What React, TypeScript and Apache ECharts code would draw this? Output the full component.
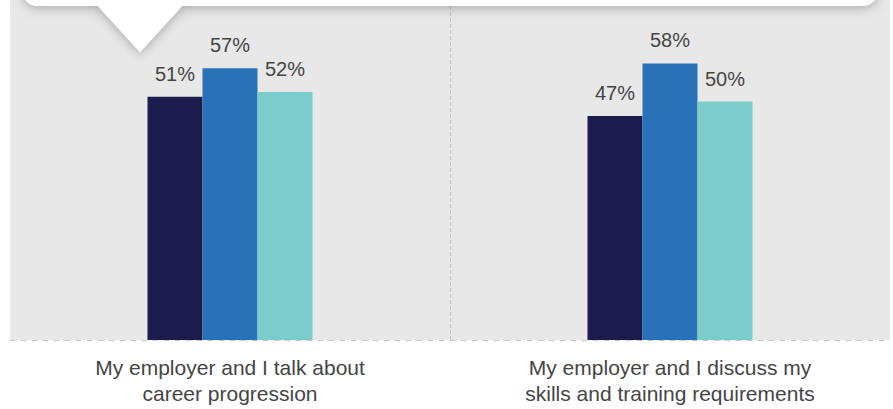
import React, { useEffect, useRef } from "react";
import * as echarts from "echarts";

const categories = [
  "My employer and I talk about\ncareer progression",
  "My employer and I discuss my\nskills and training requirements",
];
const seriesA = [51, 47];
const seriesB = [57, 58];
const seriesC = [52, 50];
const seriesColors = ["#1c1c4e", "#2a72b8", "#7dcccc"];

export default function App() {
  const ref = useRef<HTMLDivElement>(null);
  useEffect(() => {
    if (!ref.current) return;
    const chart = echarts.init(ref.current, undefined, { renderer: "svg" });
    const font = "'Liberation Sans', Arial, Helvetica, sans-serif";
    const mkSeries = (name: string, data: number[], color: string) => ({
      name,
      type: "bar",
      data,
      barWidth: 55,
      barGap: "0%",
      itemStyle: { color },
      label: {
        show: true,
        position: "top",
        distance: 13,
        formatter: "{c}%",
        color: "#454545",
        fontSize: 20,
        fontFamily: font,
      },
    });
    const shadow = {
      shadowBlur: 12,
      shadowColor: "rgba(0,0,0,0.28)",
      shadowOffsetX: 0,
      shadowOffsetY: 2,
    };
    chart.setOption({
      animation: false,
      grid: {
        left: 10,
        right: 3,
        top: 0,
        bottom: 69,
        show: true,
        backgroundColor: "#e8e8e8",
        borderWidth: 0,
      },
      xAxis: {
        type: "category",
        data: categories,
        axisLine: { show: true, lineStyle: { color: "#c8c8c8", type: [5, 6], width: 1 } },
        axisTick: { show: false },
        axisLabel: {
          color: "#454545",
          fontSize: 21,
          lineHeight: 26,
          margin: 14,
          fontFamily: font,
          interval: 0,
        },
        splitLine: {
          show: true,
          showMinLine: false,
          showMaxLine: false,
          lineStyle: { color: "#c4c4c4", type: [4, 2], width: 1 },
        },
      },
      yAxis: {
        type: "value",
        min: 0,
        max: 71.3,
        show: false,
        splitLine: { show: false },
      },
      series: [
        mkSeries("A", seriesA, seriesColors[0]),
        mkSeries("B", seriesB, seriesColors[1]),
        mkSeries("C", seriesC, seriesColors[2]),
      ],
      graphic: [
        {
          type: "rect",
          shape: { x: 22, y: -40, width: 856, height: 46, r: 16 },
          style: { fill: "#ffffff", ...shadow },
          z: 100,
        },
        {
          type: "polygon",
          shape: { points: [[97, 5], [140, 52], [183, 5]] },
          style: { fill: "#ffffff", ...shadow },
          z: 100,
        },
        {
          type: "rect",
          shape: { x: 22, y: -40, width: 856, height: 46, r: 16 },
          style: { fill: "#ffffff" },
          z: 101,
        },
        {
          type: "polygon",
          shape: { points: [[97, 5], [140, 52], [183, 5]] },
          style: { fill: "#ffffff" },
          z: 101,
        },
      ],
    });
    return () => chart.dispose();
  }, []);
  return (
    <div
      ref={ref}
      style={{ position: "fixed", left: 0, top: 0, width: 893, height: 409, background: "#ffffff" }}
    />
  );
}
